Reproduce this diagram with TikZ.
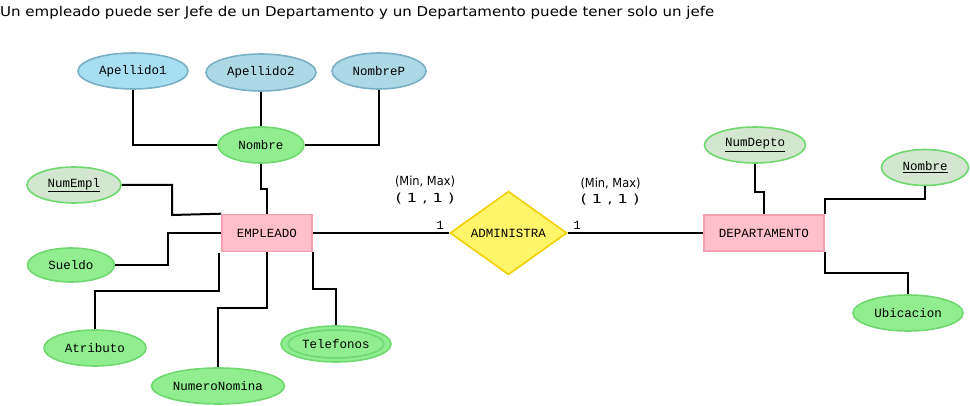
\documentclass[tikz,border=0pt]{standalone}
\usepackage{fontspec}
\usepackage{graphicx}
\usetikzlibrary{shapes.geometric}
\newfontfamily\monof{Liberation Mono}
\newfontfamily\sansf{DejaVu Sans}
\definecolor{attrF}{HTML}{90EE90}
\definecolor{attrB}{HTML}{6FD86F}
\definecolor{keyF}{HTML}{D2E6D0}
\definecolor{blueF}{HTML}{ADD8E6}
\definecolor{blueFa}{HTML}{A8DEF2}
\definecolor{blueB}{HTML}{7AAFC4}
\definecolor{entF}{HTML}{FFC0CB}
\definecolor{entB}{HTML}{F4A0AE}
\definecolor{relF}{HTML}{FFF56A}
\definecolor{relB}{HTML}{F2CF00}
\begin{document}
\begin{tikzpicture}[x=1pt,y=-1pt,
  lbl/.style={font=\monof\fontsize{12.5}{14}\selectfont, text=black},
  attr/.style={ellipse, draw=attrB, fill=attrF, line width=1.6pt, inner sep=0pt, lbl},
  keyattr/.style={attr, fill=keyF},
  blueattr/.style={attr, draw=blueB, fill=blueF},
  entity/.style={rectangle, draw=entB, fill=entF, line width=1.6pt, inner sep=0pt, lbl},
  rel/.style={diamond, draw=relB, fill=relF, line width=1.6pt, inner sep=0pt, lbl},
  conn/.style={line width=2pt, black},
  card/.style={font=\sansf\fontsize{12.5}{14}\selectfont, text=black, inner sep=0pt}
]
\useasboundingbox (0,0) rectangle (970,406);

% title
\node[anchor=base west, inner sep=0pt, font=\sansf\fontsize{13.5}{16}\selectfont] (title) at (0,17)
  {\resizebox{714pt}{\height}{Un empleado puede ser Jefe de un Departamento y un Departamento puede tener solo un jefe}};

% entities
\node[entity, minimum width=90, minimum height=37] (emp) at (267,233) {EMPLEADO};
\node[entity, minimum width=120, minimum height=36] (dep) at (764,233) {DEPARTAMENTO};
\node[rel, minimum width=117, minimum height=70] (adm) at (508.5,233) {ADMINISTRA};

% attributes of EMPLEADO
\node[blueattr, fill=blueFa, minimum width=110, minimum height=36] (ap1) at (133,71) {Apellido1};
\node[blueattr, minimum width=110, minimum height=37] (ap2) at (261,72.5) {Apellido2};
\node[blueattr, minimum width=94, minimum height=36] (np) at (379,71) {NombreP};
\node[attr, minimum width=86, minimum height=36] (nom) at (261,145) {Nombre};
\node[keyattr, minimum width=94, minimum height=36] (ne) at (74,185) {\underline{NumEmpl}};
\node[attr, minimum width=87, minimum height=34] (su) at (71,265) {Sueldo};
\node[attr, minimum width=102, minimum height=36] (at) at (95,348) {Atributo};
\node[attr, minimum width=133, minimum height=36] (nn) at (218,386) {NumeroNomina};
\node[attr, minimum width=110, minimum height=36] (tel) at (336,344) {};
\node[attr, minimum width=93, minimum height=28] (telin) at (336,344) {Telefonos};

% attributes of DEPARTAMENTO
\node[keyattr, minimum width=101, minimum height=36] (nd) at (755,145) {\underline{NumDepto}};
\node[keyattr, minimum width=87, minimum height=36] (nb) at (925,167.5) {\underline{Nombre}};
\node[attr, minimum width=110, minimum height=36] (ub) at (908,313) {Ubicacion};

% junction coordinates
\coordinate (j1) at (172,215);
\coordinate (j2) at (168,233);
\coordinate (j3) at (219,291);
\coordinate (j3e) at (219,253);

% connectors
\draw[conn] (ap1.south) |- (nom.west);
\draw[conn] (ap2.south) -- (nom.north);
\draw[conn] (np.south) |- (nom.east);
\draw[conn] (nom.south) -- ++(0,25) -| (emp.north);
\draw[conn] (ne.east) -| (j1) -- (emp.north west);
\draw[conn] (su.east) -| (j2) -- (emp.west);
\draw[conn] (at.north) |- (j3) -- (j3e);
\draw[conn] (nn.north) -- ++(0,-59) -| (emp.south);
\draw[conn] (emp.south east) -- ++(0,37) -| (tel.north);
\draw[conn] (emp.east) -- (adm.west);
\draw[conn] (adm.east) -- (dep.west);
\draw[conn] (nd.south) -- ++(0,28) -| (dep.north);
\draw[conn] (dep.north east) -- ++(0,-15) -| (nb.south);
\draw[conn] (dep.south east) -- ++(0,21) -| (ub.north);

% cardinalities
\node[lbl, inner sep=0pt] (c1) at (440,225) {1};
\node[lbl, inner sep=0pt] (c2) at (577,225) {1};
\node[card] (mm1) at (425,182) {\resizebox{60pt}{\height}{(Min, Max)}};
\node[card] (v1) at (425,199) {\resizebox{59pt}{\height}{( 1 , 1 )}};
\node[card] (mm2) at (610.5,184) {\resizebox{60pt}{\height}{(Min, Max)}};
\node[card] (v2) at (610,200) {\resizebox{59pt}{\height}{( 1 , 1 )}};
\end{tikzpicture}
\end{document}
